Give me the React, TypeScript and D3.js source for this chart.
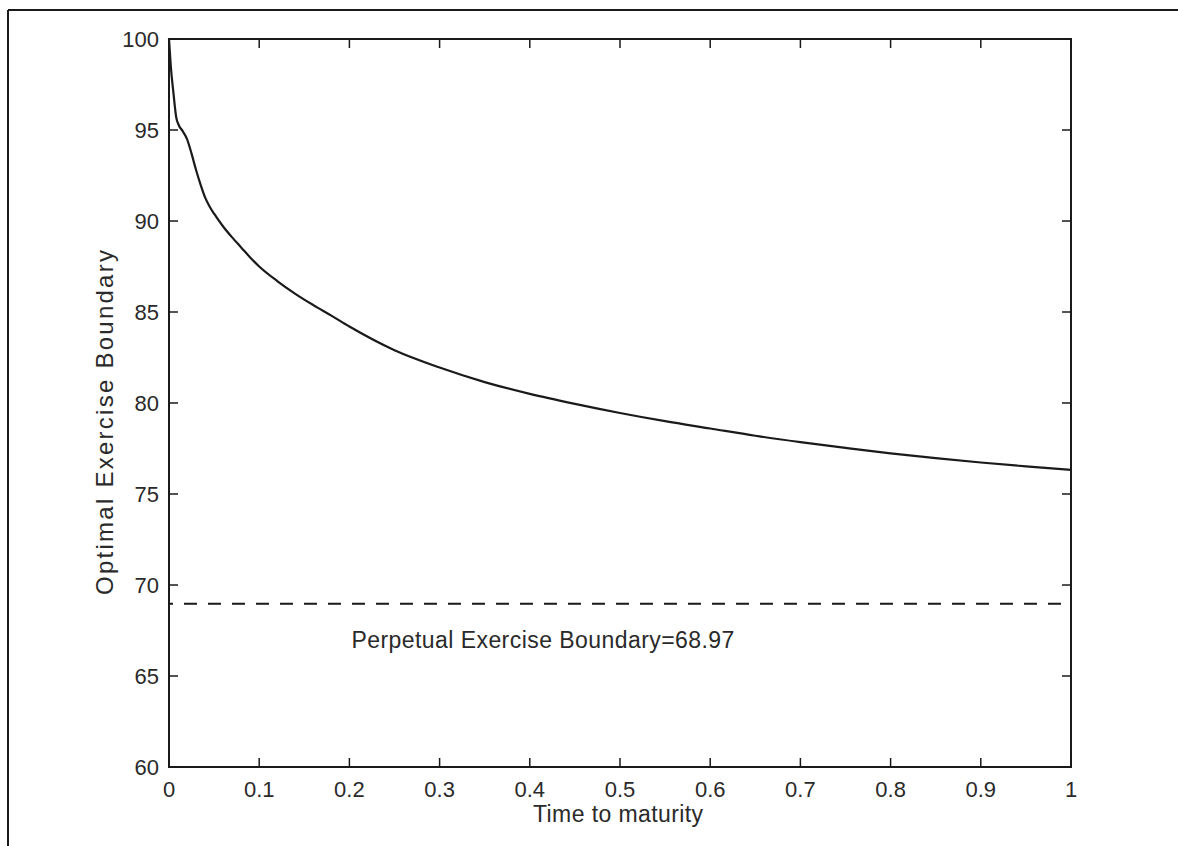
import React from 'react';
import * as d3 from 'd3';

// time to maturity (years) and the optimal exercise boundary
const times = [
  0, 0.002, 0.005, 0.008, 0.011, 0.015, 0.02, 0.025, 0.03, 0.035, 0.04, 0.045, 0.05,
  0.06, 0.07, 0.08, 0.09, 0.1, 0.12, 0.14, 0.16, 0.18, 0.2, 0.25, 0.3, 0.35, 0.4,
  0.45, 0.5, 0.55, 0.6, 0.65, 0.7, 0.75, 0.8, 0.85, 0.9, 0.95, 1,
];
const boundary = [
  100, 98.5, 97.0, 95.7, 95.25, 94.95, 94.5, 93.7, 92.8, 92.0, 91.3, 90.8, 90.4,
  89.7, 89.1, 88.55, 88.0, 87.5, 86.7, 86.0, 85.38, 84.8, 84.2, 82.9, 81.95, 81.15, 80.5,
  79.95, 79.45, 79.0, 78.6, 78.2, 77.85, 77.53, 77.23, 76.97, 76.73, 76.52, 76.33,
];
const perpetual = 68.97;
const xTicks = [0, 0.1, 0.2, 0.3, 0.4, 0.5, 0.6, 0.7, 0.8, 0.9, 1];
const yTicks = [60, 65, 70, 75, 80, 85, 90, 95, 100];

const App = () => {
  const Width = 1178;
  const Height = 846;
  const margin = { top: 39, right: 107, bottom: 79, left: 169 };
  const chartWidth = Width - margin.left - margin.right;
  const chartHeight = Height - margin.top - margin.bottom;

  const xScale = d3.scaleLinear().domain([0, 1]).range([0, chartWidth]);
  const yScale = d3.scaleLinear().domain([60, 100]).range([chartHeight, 0]);

  const line = d3
    .line<number>()
    .x((d, i) => xScale(times[i]))
    .y((d) => yScale(d))
    .curve(d3.curveMonotoneX);

  const ink = '#1a1a1a';
  const txt = '#2a2a2a';
  const font = 'Liberation Sans, Arial, Helvetica, sans-serif';
  const tick = 9;

  return (
    <svg
      width={Width}
      height={Height}
      style={{ position: 'absolute', left: 0, top: 0, background: '#fff' }}
      fontFamily={font}
    >
      {/* scanned page frame */}
      <line x1={8} y1={10} x2={Width} y2={10} stroke={ink} strokeWidth={2} />
      <line x1={8} y1={10} x2={8} y2={Height} stroke={ink} strokeWidth={2} />

      <g transform={`translate(${margin.left}, ${margin.top})`}>
        <rect x={0} y={0} width={chartWidth} height={chartHeight} fill="none" stroke={ink} strokeWidth={2} />

        {xTicks.map((t) => (
          <g key={`x${t}`}>
            <line x1={xScale(t)} x2={xScale(t)} y1={chartHeight} y2={chartHeight - tick} stroke={ink} strokeWidth={1.5} />
            <line x1={xScale(t)} x2={xScale(t)} y1={0} y2={tick} stroke={ink} strokeWidth={1.5} />
            <text x={xScale(t)} y={chartHeight + 30} textAnchor="middle" fontSize={22} fill={txt}>
              {t}
            </text>
          </g>
        ))}

        {yTicks.map((v) => (
          <g key={`y${v}`}>
            <line x1={0} x2={tick} y1={yScale(v)} y2={yScale(v)} stroke={ink} strokeWidth={1.5} />
            <line x1={chartWidth} x2={chartWidth - tick} y1={yScale(v)} y2={yScale(v)} stroke={ink} strokeWidth={1.5} />
            <text x={-10} y={yScale(v) + 8} textAnchor="end" fontSize={22} fill={txt}>
              {v}
            </text>
          </g>
        ))}

        <path d={line(boundary) || ''} fill="none" stroke={ink} strokeWidth={2.2} />

        <line
          x1={xScale(0)}
          x2={xScale(1)}
          y1={yScale(perpetual)}
          y2={yScale(perpetual)}
          stroke={ink}
          strokeWidth={2.2}
          strokeDasharray="13 11"
          strokeDashoffset={9}
        />
        <text x={xScale(0.2) + 2} y={yScale(67) + 8} fontSize={23} fill={txt} textLength={383} lengthAdjust="spacing">
          Perpetual Exercise Boundary=68.97
        </text>

        <text x={chartWidth / 2 - 2} y={chartHeight + 55} textAnchor="middle" fontSize={23} fill={txt} textLength={170} lengthAdjust="spacing">
          Time to maturity
        </text>
        <text
          transform={`translate(-56, ${chartHeight - 172}) rotate(-90)`}
          fontSize={24}
          fill={txt}
          textLength={345}
          lengthAdjust="spacing"
          textAnchor="start"
        >
          Optimal Exercise Boundary
        </text>
      </g>
    </svg>
  );
};

export default App;
